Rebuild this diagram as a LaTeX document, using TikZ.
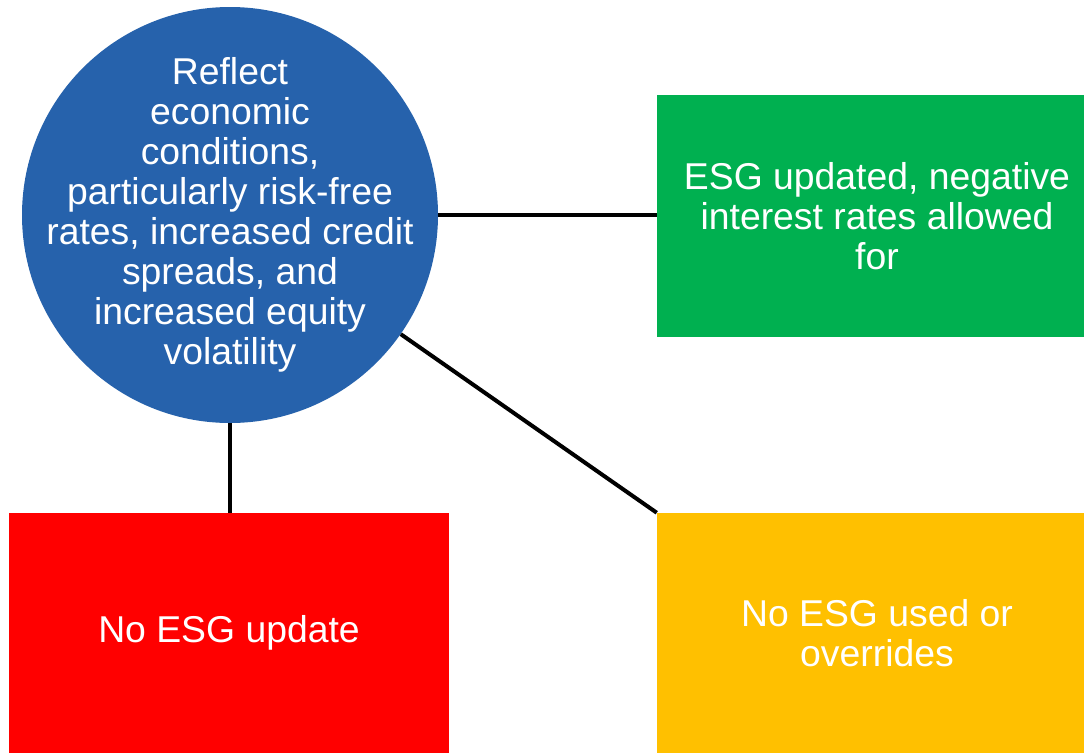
\documentclass[tikz,border=0pt]{standalone}
\usepackage{fontspec}
\setmainfont{Liberation Sans}
\definecolor{hubblue}{RGB}{38,98,172}
\definecolor{boxgreen}{RGB}{0,176,80}
\definecolor{boxred}{RGB}{255,0,0}
\definecolor{boxyellow}{RGB}{255,192,0}
\begin{document}
\begin{tikzpicture}[x=0.75pt,y=-0.75pt,
  lbl/.style={text=white,align=center,font=\fontsize{28pt}{30pt}\selectfont},
  hub/.style={circle,fill=hubblue,minimum size=312pt,inner sep=-32pt,lbl},
  outcome/.style={rectangle,minimum width=330pt,inner sep=0pt,lbl},
  link/.style={line width=3pt,black}]
\useasboundingbox (0,0) rectangle (1084,753);
\fill[white] (0,0) rectangle (1084,753);

% central circle
\node[hub] (c) at (230,215) {Reflect\\economic\\conditions,\\particularly risk-free\\rates, increased credit\\spreads, and\\increased equity\\volatility};

% outcome boxes
\node[outcome,fill=boxgreen,minimum height=181.5pt] (green) at (877,216) {ESG updated, negative\\interest rates allowed\\for};
\node[outcome,fill=boxred,minimum height=180pt] (red) at (229,633) {No ESG update};
\node[outcome,fill=boxyellow,minimum height=180pt] (yellow) at (877,633) {No ESG used or\\overrides};

% connectors
\draw[link] (c.east) -- (c.east -| green.west);
\draw[link] (c.south) -- (c.south |- red.north);
\draw[link] (c) -- (yellow.north west);
\end{tikzpicture}
\end{document}
